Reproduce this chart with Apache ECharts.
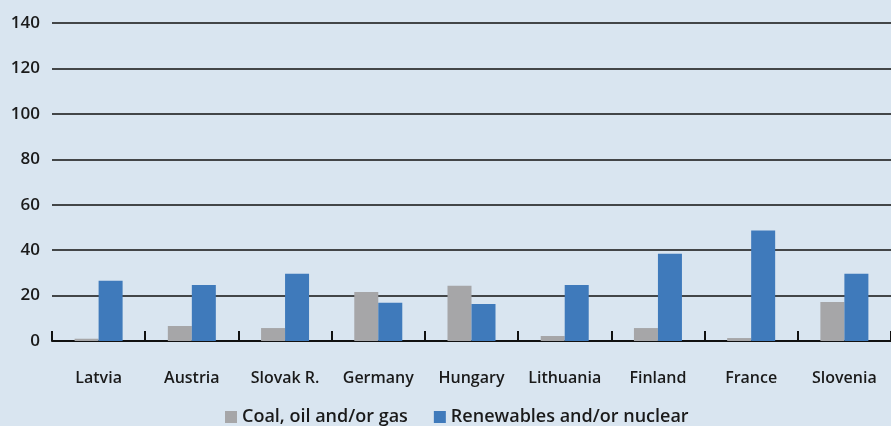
<!DOCTYPE html>
<html><head><meta charset="utf-8">
<script src="https://cdn.jsdelivr.net/npm/echarts@6/dist/echarts.min.js"></script>
<style>html,body{margin:0;padding:0;background:#d9e5f0;}#c{width:891px;height:426px;}</style>
</head><body><div id="c"></div>
<script>
const categories = ['Latvia','Austria','Slovak R.','Germany','Hungary','Lithuania','Finland','France','Slovenia'];
const fossil = [1.0, 6.6, 5.7, 21.6, 24.3, 2.2, 5.7, 1.3, 17.2];
const renewables = [26.5, 24.7, 29.6, 16.8, 16.3, 24.7, 38.4, 48.6, 29.6];
const seriesNames = ['Coal, oil and/or gas', 'Renewables and/or nuclear'];
const yTicks = {min: 0, max: 140, interval: 20};

const font = '"Open Sans", "Noto Sans", sans-serif';
const chart = echarts.init(document.getElementById('c'));
chart.setOption({
  backgroundColor: '#d9e5f0',
  animation: false,
  grid: {left: 52, right: 0, top: 23, bottom: 85},
  legend: {
    top: 408, left: 225, itemWidth: 12, itemHeight: 12, itemGap: 26, padding: 0,
    icon: 'rect',
    textStyle: {fontFamily: font, fontSize: 18, color: '#1a1a1a', fontWeight: 600},
    data: seriesNames
  },
  xAxis: {
    type: 'category', data: categories,
    axisLine: {lineStyle: {color: '#111', width: 2}},
    axisTick: {show: true, inside: true, length: 10, interval: 0, lineStyle: {color: '#111', width: 2}},
    axisLabel: {fontFamily: font, fontSize: 16, color: '#1a1a1a', fontWeight: 600, margin: 29, interval: 0}
  },
  yAxis: {
    type: 'value', min: yTicks.min, max: yTicks.max, interval: yTicks.interval,
    axisLine: {show: false}, axisTick: {show: false},
    splitLine: {lineStyle: {color: '#111', width: 1.5}},
    axisLabel: {fontFamily: font, fontSize: 17, color: '#1a1a1a', fontWeight: 600, margin: 12}
  },
  series: [
    {name: seriesNames[0], type: 'bar', data: fossil, barWidth: 24, barGap: '0%', itemStyle: {color: '#a6a6a8'}},
    {name: seriesNames[1], type: 'bar', data: renewables, barWidth: 24, barGap: '0%', itemStyle: {color: '#3f7abb'}}
  ]
});
</script></body></html>
